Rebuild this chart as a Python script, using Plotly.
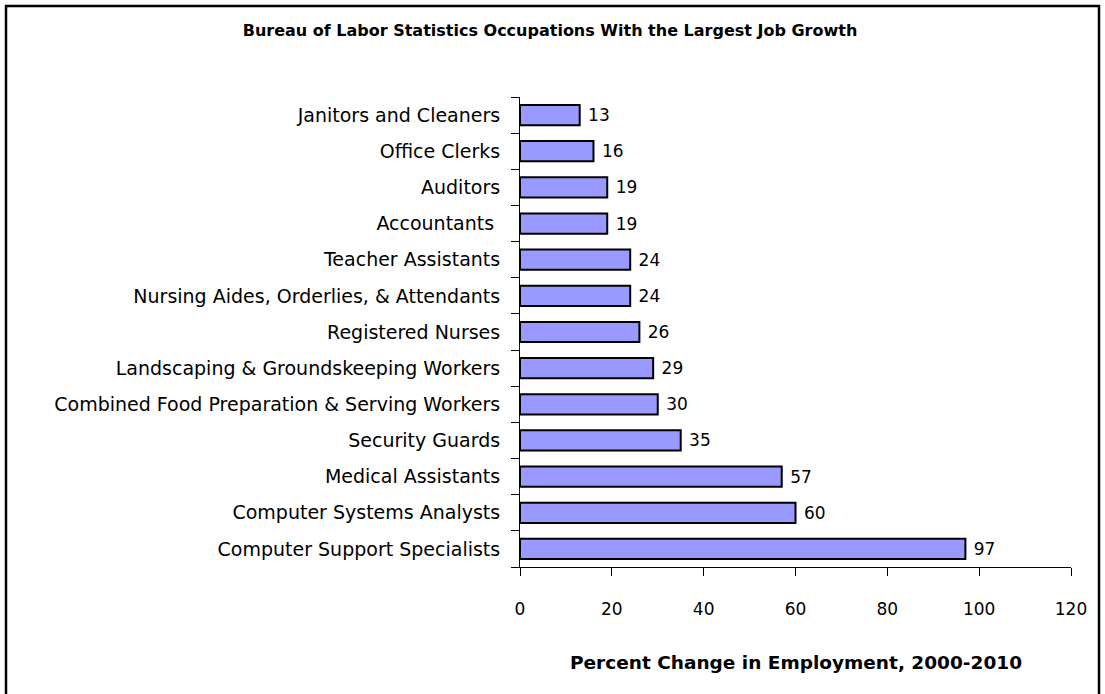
import plotly.graph_objects as go

categories = ["Computer Support Specialists", "Computer Systems Analysts", "Medical Assistants",
              "Security Guards", "Combined Food Preparation & Serving Workers",
              "Landscaping & Groundskeeping Workers", "Registered Nurses",
              "Nursing Aides, Orderlies, & Attendants", "Teacher Assistants", "Accountants ",
              "Auditors", "Office Clerks", "Janitors and Cleaners"]
values = [97, 60, 57, 35, 30, 29, 26, 24, 24, 19, 19, 16, 13]
x_ticks = [0, 20, 40, 60, 80, 100, 120]

FONT = "DejaVu Sans, Verdana, sans-serif"

fig = go.Figure(go.Bar(
    y=categories, x=values, orientation="h",
    marker=dict(color="#9999FF", line=dict(color="black", width=2)),
    text=[" " + str(v) for v in values], textposition="outside",
    textfont=dict(family=FONT, size=17, color="black"),
    cliponaxis=False, width=0.56,
))

L, R, T, B = 520, 34, 97, 127
W, H = 1105, 694
pw, ph = W - L - R, H - T - B

fig.update_layout(
    width=W, height=H,
    margin=dict(l=L, r=R, t=T, b=B),
    paper_bgcolor="white", plot_bgcolor="white",
    showlegend=False,
    font=dict(family=FONT, size=17, color="black"),
    title=dict(text="<b>Bureau of Labor Statistics Occupations With the Largest Job Growth</b>",
               x=550 / W, xanchor="center", y=1 - 30 / H, yanchor="middle",
               font=dict(family=FONT, size=16, color="black")),
    xaxis=dict(range=[0, 120], tickvals=x_ticks, showgrid=False, zeroline=False,
               showline=True, linecolor="black", linewidth=1,
               ticks="outside", ticklen=8, tickcolor="black",
               ticklabelstandoff=19,
               tickfont=dict(family=FONT, size=17, color="black")),
    yaxis=dict(showgrid=False, zeroline=False, showline=True, linecolor="black", linewidth=1,
               ticks="outside", ticklen=8, tickcolor="black", tickson="boundaries",
               ticklabelstandoff=15,
               tickfont=dict(family=FONT, size=19, color="black")),
    annotations=[dict(text="<b>Percent Change in Employment, 2000-2010</b>",
                      xref="paper", yref="paper", x=(796 - L) / pw, y=-(662 - (T + ph)) / ph,
                      xanchor="center", yanchor="middle", showarrow=False,
                      font=dict(family=FONT, size=18.5, color="black"))],
    shapes=[dict(type="rect", xref="paper", yref="paper",
                 x0=(6 - L) / pw, x1=(1099 - L) / pw,
                 y0=-(700 - (T + ph)) / ph, y1=((T + ph) - 6) / ph,
                 line=dict(color="black", width=2.5), fillcolor="rgba(0,0,0,0)", layer="below")],
)

fig.write_html("out.html", config={"displayModeBar": False},
               post_script="document.body.style.margin='0';")
